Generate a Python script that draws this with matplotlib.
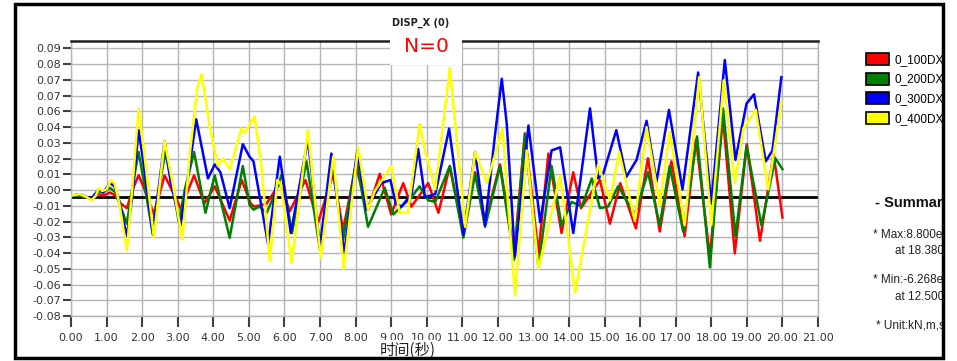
import matplotlib
matplotlib.use("Agg")
import matplotlib.pyplot as plt
from matplotlib.patches import Rectangle, Patch
import numpy as np

# series (time in s, displacement)
t_100 = [0.00, 0.25, 0.57, 0.78, 0.90, 1.10, 1.25, 1.40, 1.57, 1.75, 1.90, 2.05, 2.33, 2.63, 2.85,
         3.10, 3.30, 3.46, 3.75, 4.04, 4.46, 4.80, 5.05, 5.15, 5.35, 5.50, 5.87, 6.15, 6.59, 6.95,
         7.37, 7.65, 8.00, 8.35, 8.68, 9.00, 9.34, 9.57, 10.04, 10.33, 10.65, 11.03, 11.36, 11.64,
         12.06, 12.46, 12.76, 13.14, 13.42, 13.79, 14.12, 14.34, 14.87, 15.15, 15.44, 15.88, 16.22,
         16.55, 16.88, 17.25, 17.57, 17.96, 18.33, 18.66, 19.00, 19.37, 19.75, 20.00]
v_100 = [0.001, 0.001, -0.001, 0.002, 0.001, 0.003, 0.001, -0.004, -0.007, 0.006, 0.014, 0.006, -0.011,
         0.014, 0.004, -0.008, 0.005, 0.014, -0.004, 0.007, -0.015, 0.011, -0.004, -0.006, -0.005,
         -0.004, 0.009, -0.009, 0.011, -0.016, 0.015, -0.021, 0.020, -0.008, 0.015, -0.011, 0.009,
         -0.006, 0.009, -0.010, 0.020, -0.023, 0.016, -0.016, 0.021, -0.036, 0.041, -0.036, 0.028,
         -0.023, 0.016, -0.007, 0.011, -0.017, 0.009, -0.020, 0.025, -0.022, 0.023, -0.025, 0.037,
         -0.038, 0.051, -0.036, 0.034, -0.028, 0.028, -0.013]

t_200 = [0.00, 0.25, 0.57, 0.78, 0.90, 1.10, 1.25, 1.57, 1.75, 1.90, 2.05, 2.28, 2.65, 2.90, 3.03,
         3.20, 3.46, 3.78, 4.04, 4.46, 4.83, 5.02, 5.13, 5.30, 5.50, 5.75, 5.93, 6.21, 6.62, 7.00,
         7.32, 7.65, 8.02, 8.35, 8.82, 9.06, 9.29, 9.57, 9.80, 10.04, 10.24, 10.65, 11.03, 11.36,
         11.64, 12.06, 12.46, 12.76, 13.14, 13.51, 13.79, 14.07, 14.36, 14.64, 14.87, 15.10, 15.38,
         15.85, 16.22, 16.55, 16.83, 17.21, 17.60, 17.96, 18.33, 18.68, 18.99, 19.41, 19.80, 20.00]
v_200 = [0.001, 0.001, -0.001, 0.004, 0.003, 0.006, 0.003, -0.017, 0.010, 0.029, 0.010, -0.021, 0.029,
         0.002, -0.016, 0.005, 0.029, -0.010, 0.014, -0.026, 0.020, -0.005, -0.008, -0.006, -0.010,
         0.003, 0.015, -0.023, 0.023, -0.034, 0.024, -0.027, 0.024, -0.019, 0.006, -0.011, -0.006,
         0.000, 0.007, -0.002, -0.003, 0.020, -0.026, 0.015, -0.019, 0.020, -0.040, 0.040, -0.045,
         0.020, -0.018, -0.003, -0.006, 0.012, -0.007, -0.006, 0.007, -0.011, 0.016, -0.018, 0.020,
         -0.022, 0.039, -0.045, 0.057, -0.025, 0.033, -0.018, 0.025, 0.018]

t_300 = [0.00, 0.25, 0.57, 0.78, 0.90, 1.10, 1.22, 1.35, 1.57, 1.72, 1.90, 2.05, 2.30, 2.63, 2.80,
         3.08, 3.30, 3.52, 3.85, 4.04, 4.20, 4.46, 4.83, 5.02, 5.13, 5.54, 5.87, 6.18, 6.66, 7.00,
         7.32, 7.68, 8.05, 8.30, 8.72, 8.98, 9.13, 9.29, 9.57, 9.76, 9.95, 10.24, 10.63, 11.03,
         11.36, 11.64, 11.92, 12.11, 12.25, 12.48, 12.86, 13.19, 13.51, 13.75, 14.12, 14.59, 14.82,
         14.96, 15.33, 15.61, 15.90, 16.18, 16.46, 16.81, 17.19, 17.63, 18.00, 18.38, 18.68, 18.99,
         19.20, 19.53, 19.72, 19.97]
v_300 = [0.001, 0.002, -0.001, 0.005, 0.003, 0.009, 0.007, -0.002, -0.025, 0.000, 0.043, 0.020,
         -0.024, 0.036, 0.010, -0.018, 0.015, 0.050, 0.012, 0.021, 0.016, -0.007, 0.034, 0.026, 0.023,
         -0.030, 0.026, -0.023, 0.037, -0.032, 0.028, -0.036, 0.030, -0.008, 0.009, 0.011, -0.004,
         -0.006, 0.002, 0.031, 0.000, 0.002, 0.044, -0.024, 0.029, -0.018, 0.040, 0.076, 0.047,
         -0.038, 0.046, -0.016, 0.030, 0.032, -0.023, 0.057, 0.012, 0.015, 0.043, 0.013, 0.024,
         0.049, 0.010, 0.056, 0.005, 0.080, -0.004, 0.088, 0.024, 0.060, 0.066, 0.023, 0.030, 0.077]

t_400 = [0.00, 0.25, 0.45, 0.57, 0.70, 0.78, 0.88, 1.00, 1.13, 1.22, 1.35, 1.57, 1.72, 1.90, 2.05,
         2.33, 2.63, 2.85, 3.13, 3.35, 3.55, 3.67, 3.90, 4.13, 4.27, 4.46, 4.79, 4.88, 5.16, 5.35,
         5.59, 5.80, 5.90, 6.20, 6.66, 7.02, 7.37, 7.67, 8.07, 8.35, 8.54, 9.00, 9.24, 9.47, 9.80,
         9.95, 10.24, 10.65, 11.08, 11.36, 11.69, 12.13, 12.48, 12.81, 13.14, 13.75, 14.17, 14.82,
         15.15, 15.41, 15.85, 16.18, 16.55, 16.83, 17.25, 17.66, 18.00, 18.35, 18.66, 18.90, 19.25,
         19.60, 19.97]
v_400 = [0.001, 0.002, 0.000, -0.002, 0.001, 0.006, 0.004, 0.005, 0.011, 0.009, -0.003, -0.034,
         0.005, 0.057, 0.030, -0.026, 0.036, 0.010, -0.027, 0.030, 0.070, 0.079, 0.045, 0.020, 0.025,
         0.018, 0.044, 0.041, 0.052, 0.020, -0.041, 0.011, 0.008, -0.042, 0.043, -0.039, 0.026,
         -0.046, 0.032, -0.008, 0.004, 0.020, -0.010, -0.010, 0.047, 0.030, 0.005, 0.083, -0.019,
         0.029, 0.009, 0.044, -0.063, 0.030, -0.046, 0.014, -0.061, 0.021, -0.002, 0.029, -0.015,
         0.045, -0.005, 0.042, -0.018, 0.077, -0.018, 0.075, 0.009, 0.044, 0.056, 0.005, 0.061]

series_names = ["0_100DX", "0_200DX", "0_300DX", "0_400DX"]
series_colors = ["#ff0000", "#008000", "#0000ff", "#ffff00"]

ytick_labels = ["-0.08", "-0.07", "-0.06", "-0.05", "-0.04", "-0.03", "-0.02", "-0.01", "0.00",
                "0.01", "0.02", "0.03", "0.04", "0.06", "0.07", "0.07", "0.08", "0.09"]
xtick_values = list(range(0, 22))

summary_lines = ["* Max:8.800e-002", "at 18.380", "* Min:-6.268e-002", "at 12.500", "* Unit:kN,m,sec"]

W, H = 957, 361
fig = plt.figure(figsize=(W / 100, H / 100), dpi=100)
fig.patch.set_facecolor("white")

def fx(px):
    return px / W

def fy(py):
    return 1 - py / H

ax = fig.add_axes([fx(71), fy(316), fx(818) - fx(71), fy(41) - fy(316)])

# y ticks sit on an odd grid (labels are rounded)
ytick_pos = 0.0046 + 0.0101 * np.arange(-8, 10)
ax.set_ylim(ytick_pos[0], 0.1002)
ax.set_xlim(0, 21)

ax.grid(True, color="#b4b4b4", lw=1.0)
ax.set_axisbelow(True)
ax.axhline(0, color="black", lw=2.0, zorder=2)

all_t = [t_100, t_200, t_300, t_400]
all_v = [v_100, v_200, v_300, v_400]
for tt, vv, c, name in zip(all_t, all_v, series_colors, series_names):
    ax.plot(tt, vv, color=c, lw=1.8, label=name, zorder=3, solid_joinstyle="round")

ax.set_yticks(ytick_pos)
ax.set_yticklabels(ytick_labels)
ax.set_xticks(xtick_values)
ax.set_xticklabels(["%.2f" % x for x in xtick_values])
ax.tick_params(axis="y", length=6, width=1.5, color="#404040", labelsize=8, labelcolor="#333333", pad=1)
ax.tick_params(axis="x", length=8, width=1.5, color="#404040", labelsize=8, labelcolor="#333333", pad=4)

for side in ["left", "right", "bottom"]:
    ax.spines[side].set_color("#b4b4b4")
    ax.spines[side].set_linewidth(1.0)
ax.spines["top"].set_color("#202020")
ax.spines["top"].set_linewidth(1.8)

# title and N=0 box
fig.text(fx(421), fy(23), "DISP_X (0)", fontsize=7, fontweight="bold", ha="center", va="center",
         color="#222222")
fig.add_artist(Rectangle((fx(390), fy(65)), fx(462) - fx(390), fy(30) - fy(65), transform=fig.transFigure,
                         facecolor="white", edgecolor="none", zorder=4))
fig.text(fx(426), fy(47), "N=0", fontsize=14.5, color="#ff0000", ha="center", va="center", zorder=5)

# x label over the tick labels
fig.text(fx(408), fy(350), "时间(秒)", fontsize=11, ha="center", va="center", color="#222222",
         family=["Noto Sans CJK SC", "DejaVu Sans"], zorder=5,
         bbox=dict(boxstyle="square,pad=0.1", facecolor="white", edgecolor="none"))

handles = [Patch(facecolor=c, edgecolor="black", lw=1.2) for c in series_colors]
fig.legend(handles, series_names, loc="upper left", bbox_to_anchor=(fx(866), fy(53)),
           frameon=False, prop={"family": "Liberation Sans", "size": 8.5}, handlelength=1.95,
           handleheight=1.2, labelspacing=0.55, handletextpad=0.45, borderaxespad=0, borderpad=0)

fig.text(fx(875), fy(203), "- Summary", fontsize=10.5, fontweight="bold", va="center", color="#111111",
         family="Liberation Sans")
summary_pos = [(873, 235), (895, 251), (873, 280), (895, 297), (876, 326)]
for s, (px, py) in zip(summary_lines, summary_pos):
    fig.text(fx(px), fy(py), s, fontsize=8.5, va="center", color="#222222", family="Liberation Sans")

# cover the part outside the frame, then the frame
fig.add_artist(Rectangle((fx(944), 0), 1 - fx(944), 1, transform=fig.transFigure,
                         facecolor="white", edgecolor="none", zorder=10))
fig.add_artist(Rectangle((fx(15), fy(358)), fx(943) - fx(15), fy(4) - fy(358), transform=fig.transFigure,
                         facecolor="none", edgecolor="black", lw=2.5, zorder=11))

fig.savefig("out.png", dpi=100)
